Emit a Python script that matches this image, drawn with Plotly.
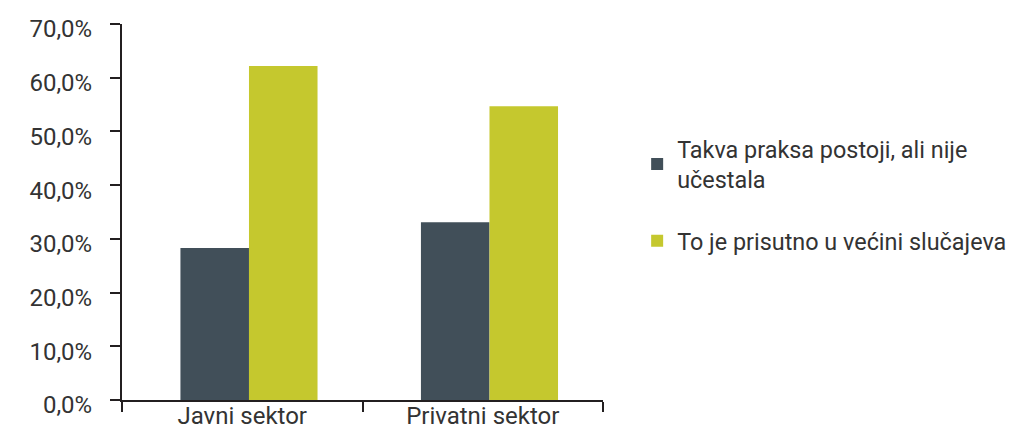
import plotly.graph_objects as go

categories = ["Javni sektor", "Privatni sektor"]
series_names = ["Takva praksa postoji, ali nije<br>učestala", "To je prisutno u većini slučajeva"]
vals_rare = [28.3, 33.1]
vals_most = [62.2, 54.7]
tick_vals = [0, 10, 20, 30, 40, 50, 60, 70]
tick_text = ["0,0%", "10,0%", "20,0%", "30,0%", "40,0%", "50,0%", "60,0%", "70,0%"]

colors = ["#414f59", "#c5c82e"]
font_fam = "Roboto, 'Noto Sans', sans-serif"
axis_col = "#231f20"
txt_col = "#333333"

fig = go.Figure()
fig.add_trace(go.Bar(x=categories, y=vals_rare, name=series_names[0],
                     marker=dict(color=colors[0], line=dict(width=0)),
                     width=0.285, offset=-0.257, legendgroup="a"))
fig.add_trace(go.Bar(x=categories, y=vals_most, name=series_names[1],
                     marker=dict(color=colors[1], line=dict(width=0)),
                     width=0.285, offset=0.028, legendgroup="b"))

# the page body adds an 8px offset, so the figure is sized to fit the window
fig.update_layout(
    width=1009, height=422,
    margin=dict(l=114, r=414, t=16, b=30, autoexpand=False),
    paper_bgcolor="white", plot_bgcolor="white",
    font=dict(family=font_fam, size=24, color=txt_col),
    barmode="group",
    showlegend=True,
    legend=dict(x=1.071, xanchor="left", y=0.545, yanchor="middle",
                traceorder="grouped", tracegroupgap=28,
                font=dict(size=23.4, color=txt_col), bgcolor="rgba(0,0,0,0)"),
    xaxis=dict(type="category", range=[-0.5, 1.5], tickson="boundaries",
               ticks="outside", ticklen=10, tickwidth=2, tickcolor=axis_col,
               showline=True, linecolor=axis_col, linewidth=2,
               showgrid=False, zeroline=False, fixedrange=True, automargin=False,
               ticklabelstandoff=-7,
               tickfont=dict(size=24, color=txt_col)),
    yaxis=dict(range=[0, 70], tickvals=tick_vals, ticktext=tick_text,
               ticks="outside", ticklen=10, tickwidth=2, tickcolor=axis_col,
               showline=True, linecolor=axis_col, linewidth=2,
               showgrid=False, zeroline=False, fixedrange=True, automargin=False,
               ticklabelstandoff=13, ticklabelshift=5,
               tickfont=dict(size=24, color=txt_col)),
)

fig.write_html("out.html")
